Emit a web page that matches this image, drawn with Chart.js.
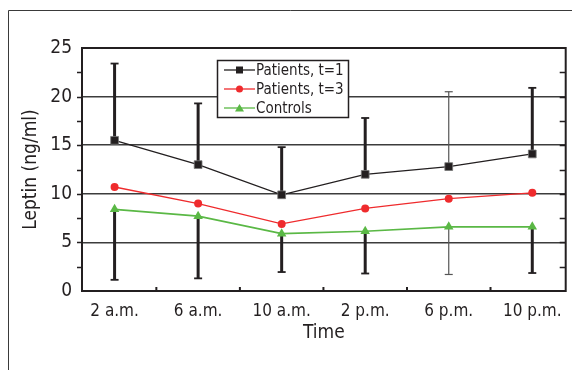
<!DOCTYPE html>
<html>
<head>
<meta charset="utf-8">
<script src="https://cdn.jsdelivr.net/npm/chart.js@4.4.0/dist/chart.umd.min.js"></script>
<style>
  html, body { margin: 0; padding: 0; background: #fff; }
  #wrap { width: 572px; height: 370px; position: relative; }
</style>
</head>
<body>
<div id="wrap"><canvas id="leptinChart" width="572" height="370"></canvas></div>
<script>
//  time points
var times = ["2 a.m.", "6 a.m.", "10 a.m.", "2 p.m.", "6 p.m.", "10 p.m."];
//  leptin means (ng/ml)
var patientsT1 = [15.5, 13.0, 9.9, 12.0, 12.8, 14.1];
var patientsT3 = [10.7, 9.0, 6.9, 8.5, 9.5, 10.1];
var controls = [8.4, 7.7, 5.9, 6.15, 6.6, 6.6];
//  error bar ends: upper one for patients t=1, lower one for controls
var patientsT1Upper = [23.4, 19.3, 14.8, 17.8, 20.5, 20.9];
var controlsLower = [1.15, 1.3, 1.95, 1.8, 1.7, 1.85];
var yTicks = [0, 5, 10, 15, 20, 25];

var fontFam = "'Liberation Sans Narrow', 'DejaVu Sans Condensed', sans-serif";
var ink = "#231f20";

function toPoints(arr) {
    return arr.map(function (v, i) { return {x: i, y: v}; });
}

//  outer frame, error bars, axis box, minor ticks and the legend box
var decorations = {
    id: 'decorations',
    beforeDraw: function (chart) {
        var ctx = chart.ctx;
        ctx.save();
        ctx.strokeStyle = "#3a3a3a";
        ctx.lineWidth = 1;
        ctx.beginPath();
        ctx.moveTo(8.5, 370);
        ctx.lineTo(8.5, 10.5);
        ctx.lineTo(572, 10.5);
        ctx.stroke();
        ctx.restore();
    },
    beforeDatasetsDraw: function (chart) {
        var ctx = chart.ctx, xs = chart.scales.x, ys = chart.scales.y;
        ctx.save();
        function bar(i, from, to) {
            var x = xs.getPixelForValue(i);
            var thin = (i === 4);
            ctx.strokeStyle = thin ? "#555" : ink;
            ctx.lineWidth = thin ? 1.2 : 3;
            ctx.beginPath();
            ctx.moveTo(x, ys.getPixelForValue(from));
            ctx.lineTo(x, ys.getPixelForValue(to));
            ctx.stroke();
            ctx.lineWidth = thin ? 1.2 : 1.8;
            ctx.beginPath();
            ctx.moveTo(x - 4, ys.getPixelForValue(to));
            ctx.lineTo(x + 4, ys.getPixelForValue(to));
            ctx.stroke();
        }
        for (var i = 0; i < times.length; i++) {
            bar(i, patientsT1[i], patientsT1Upper[i]);
            bar(i, controls[i], controlsLower[i]);
        }
        ctx.restore();
    },
    afterDraw: function (chart) {
        var ctx = chart.ctx, a = chart.chartArea, xs = chart.scales.x, ys = chart.scales.y;
        ctx.save();
        ctx.strokeStyle = ink;
        ctx.lineWidth = 2;
        ctx.strokeRect(a.left, a.top, a.right - a.left, a.bottom - a.top);
        //  minor ticks every 2.5 on both y sides
        ctx.lineWidth = 1.5;
        for (var v = 2.5; v < 25; v += 2.5) {
            var y = Math.round(ys.getPixelForValue(v)) + 0.5;
            ctx.beginPath();
            ctx.moveTo(a.left - 5, y);
            ctx.lineTo(a.left, y);
            ctx.moveTo(a.right - 6, y);
            ctx.lineTo(a.right, y);
            ctx.stroke();
        }
        //  x ticks between categories, pointing inwards
        ctx.lineWidth = 2;
        for (var k = 0; k < times.length - 1; k++) {
            var x = xs.getPixelForValue(k + 0.5);
            ctx.beginPath();
            ctx.moveTo(x, a.bottom);
            ctx.lineTo(x, a.bottom - 4);
            ctx.stroke();
        }
        //  legend
        var lx = 217.5, ly = 60.5, lw = 131, lh = 57;
        ctx.fillStyle = "#fff";
        ctx.fillRect(lx, ly, lw, lh);
        ctx.strokeStyle = ink;
        ctx.lineWidth = 1.5;
        ctx.strokeRect(lx, ly, lw, lh);
        ctx.font = "15px " + fontFam;
        ctx.textBaseline = "middle";
        var sx = Math.min(1, 91 / ctx.measureText("Patients, t=3").width);
        chart.data.datasets.forEach(function (ds, j) {
            var ry = 70 + j * 19;
            ctx.strokeStyle = ds.borderColor;
            ctx.lineWidth = 1.3;
            ctx.beginPath();
            ctx.moveTo(224, ry);
            ctx.lineTo(255, ry);
            ctx.stroke();
            ctx.fillStyle = ds.pointBackgroundColor;
            ctx.beginPath();
            if (ds.pointStyle === 'rect') {
                ctx.rect(236, ry - 3.5, 7, 7);
            } else if (ds.pointStyle === 'circle') {
                ctx.arc(239.5, ry, 3.5, 0, Math.PI * 2);
            } else {
                ctx.moveTo(239.5, ry - 4);
                ctx.lineTo(244, ry + 3.5);
                ctx.lineTo(235, ry + 3.5);
                ctx.closePath();
            }
            ctx.fill();
            ctx.fillStyle = ink;
            ctx.save();
            ctx.translate(256, ry + 1);
            ctx.scale(sx, 1);
            ctx.fillText(ds.label, 0, 0);
            ctx.restore();
        });
        ctx.restore();
    }
};

new Chart(document.getElementById("leptinChart"), {
    type: 'line',
    data: {
        datasets: [
            {
                label: "Patients, t=1",
                data: toPoints(patientsT1),
                borderColor: ink,
                borderWidth: 1.3,
                pointStyle: 'rect',
                pointRadius: 5.5,
                pointBackgroundColor: ink,
                pointBorderColor: "#777",
                pointBorderWidth: 0.8,
                order: 3
            },
            {
                label: "Patients, t=3",
                data: toPoints(patientsT3),
                borderColor: "#ef2b2d",
                borderWidth: 1.3,
                pointStyle: 'circle',
                pointRadius: 4,
                pointBackgroundColor: "#ef2b2d",
                pointBorderColor: "#ef2b2d",
                pointBorderWidth: 0,
                order: 2
            },
            {
                label: "Controls",
                data: toPoints(controls),
                borderColor: "#5ab845",
                borderWidth: 1.6,
                pointStyle: 'triangle',
                pointRadius: 5.5,
                pointBackgroundColor: "#5ab845",
                pointBorderColor: "#5ab845",
                pointBorderWidth: 0,
                order: 1
            }
        ]
    },
    options: {
        responsive: false,
        animation: false,
        devicePixelRatio: 1,
        layout: {padding: {left: 0, right: 1, top: 48, bottom: 0}},
        plugins: {
            legend: {display: false},
            tooltip: {enabled: false}
        },
        scales: {
            x: {
                type: 'linear',
                min: -0.39,
                max: 5.4,
                afterBuildTicks: function (s) {
                    s.ticks = times.map(function (t, i) { return {value: i}; });
                },
                afterFit: function (s) { s.height = 79; },
                grid: {display: false},
                border: {display: false},
                ticks: {
                    padding: 2,
                    color: ink,
                    font: {family: fontFam, size: 17},
                    callback: function (v) { return times[v]; }
                },
                title: {
                    display: true,
                    text: "Time",
                    color: ink,
                    font: {family: fontFam, size: 19},
                    padding: {top: 0, bottom: 26}
                }
            },
            y: {
                min: 0,
                max: 25,
                afterBuildTicks: function (s) {
                    s.ticks = yTicks.map(function (v) { return {value: v}; });
                },
                afterFit: function (s) { s.width = 82; },
                grid: {
                    drawTicks: false,
                    lineWidth: 1.5,
                    color: function (c) {
                        return (c.tick && (c.tick.value === 0 || c.tick.value === 25)) ? 'rgba(0,0,0,0)' : '#3c3c3c';
                    }
                },
                border: {display: false},
                ticks: {
                    padding: 10,
                    color: ink,
                    font: {family: fontFam, size: 19}
                },
                title: {
                    display: true,
                    text: "Leptin (ng/ml)",
                    color: ink,
                    font: {family: fontFam, size: 19},
                    padding: {top: 20, bottom: 0}
                }
            }
        }
    },
    plugins: [decorations]
});
</script>
</body>
</html>
